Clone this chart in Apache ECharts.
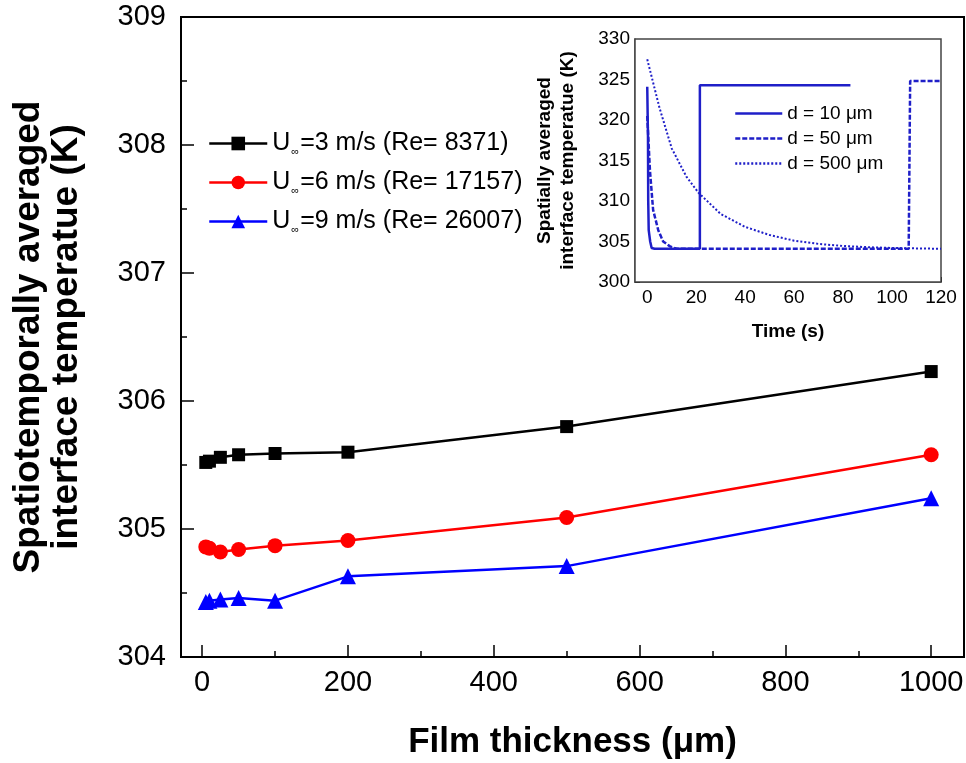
<!DOCTYPE html>
<html>
<head>
<meta charset="utf-8">
<title>Interface temperature vs film thickness</title>
<script src="https://cdn.jsdelivr.net/npm/echarts@6/dist/echarts.min.js"></script>
<style>
    html, body { margin: 0; padding: 0; background: #fff; }
    #chart { width: 966px; height: 763px; }
</style>
</head>
<body>
<div id="chart"></div>
<script>
// main plot data
const thickness = [5, 10, 25, 50, 100, 200, 500, 1000]
const tempU3 = [305.52, 305.53, 305.56, 305.58, 305.59, 305.60, 305.80, 306.23]
const tempU6 = [304.86, 304.85, 304.82, 304.84, 304.87, 304.91, 305.09, 305.58]
const tempU9 = [304.43, 304.44, 304.45, 304.46, 304.44, 304.63, 304.71, 305.24]
const mainNames = ['U∞=3 m/s (Re= 8371)', 'U∞=6 m/s (Re= 17157)', 'U∞=9 m/s (Re= 26007)']
const xMajorTicks = [0, 200, 400, 600, 800, 1000]
const xMinorTicks = [100, 300, 500, 700, 900]

// inset data (time history)
const timeD10 = [0, 0.3, 0.4, 0.6, 1.2, 1.8, 3, 21.5, 21.5, 83]
const tempD10 = [324.1, 318, 310, 306.4, 305.0, 304.2, 304.1, 304.1, 324.3, 324.3]
const timeD50 = [0, 1.1, 2.4, 4.5, 6.5, 9.3, 12, 106.8, 107.4, 120]
const tempD50 = [320.5, 313.8, 308.9, 306.4, 305.0, 304.4, 304.1, 304.1, 324.8, 324.8]
const timeD500 = [0, 5, 10, 16, 21, 30, 40, 50, 60, 70, 80, 90, 100, 110, 120]
const tempD500 = [327.5, 321.5, 316.5, 313.0, 311.0, 308.4, 306.8, 305.8, 305.1, 304.7, 304.45, 304.3, 304.2, 304.15, 304.1]
const insetNames = ['d = 10 μm', 'd = 50 μm', 'd = 500 μm']
const tMajorTicks = [0, 20, 40, 60, 80, 100, 120]
const tMinorTicks = [10, 30, 50, 70, 90, 110]

const FONT = 'Arial, "Liberation Sans", sans-serif'
const INSET_BLUE = '#1f1fc8'

const zip = (xs, ys) => xs.map((x, i) => [x, ys[i]])
const plain = (v) => String(v)

const chart = echarts.init(document.getElementById('chart'))

// extra axis that only draws short (minor) ticks at given values
const minorAxis = (gridIndex, values, len, min, max) => ({
    type: 'value', gridIndex, position: 'bottom', min, max,
    axisLine: { show: false, onZero: false },
    axisLabel: { show: false },
    splitLine: { show: false },
    axisTick: { show: true, inside: true, length: len, customValues: values, lineStyle: { color: '#000', width: gridIndex ? 1 : 1.5 } }
})

const option = {
    backgroundColor: '#fff',
    animation: false,
    textStyle: { fontFamily: FONT },
    grid: [
        { left: 181, right: 2, top: 17, bottom: 106, outerBoundsMode: 'none', containLabel: false,
          show: true, borderColor: '#000', borderWidth: 2 },
        { left: 635, right: 25, top: 39, bottom: 481, outerBoundsMode: 'none', containLabel: false,
          show: true, backgroundColor: '#fff', borderColor: '#444', borderWidth: 1.5, z: 5 }
    ],
    legend: [
        {
            data: mainNames,
            orient: 'vertical',
            left: 203, top: 126,
            itemWidth: 58, itemHeight: 17, itemGap: 13,
            lineStyle: { width: 2.5 },
            textStyle: {
                fontSize: 25, color: '#000', fontFamily: FONT,
                rich: { s: { fontSize: 11, color: '#000', verticalAlign: 'bottom', padding: [16, 1, 0, 1] } }
            },
            formatter: (name) => name.replace('∞', '{s|∞}')
        },
        {
            data: insetNames,
            orient: 'vertical',
            left: 729, top: 99,
            itemWidth: 47, itemHeight: 10, itemGap: 6,
            itemStyle: { opacity: 0 },
            lineStyle: { width: 2.5 },
            textStyle: { fontSize: 19, color: '#000', fontFamily: FONT },
            z: 10
        }
    ],
    xAxis: [
        {
            type: 'value', gridIndex: 0, position: 'bottom', min: -29, max: 1045,
            name: 'Film thickness (μm)', nameLocation: 'middle', nameGap: 68,
            nameTextStyle: { fontSize: 35, fontWeight: 'bold', color: '#000', fontFamily: FONT },
            axisLine: { onZero: false, lineStyle: { color: '#000', width: 2 } },
            axisTick: { inside: true, length: 12, customValues: xMajorTicks, lineStyle: { color: '#000', width: 1.5 } },
            axisLabel: { customValues: xMajorTicks, formatter: plain, fontSize: 29, color: '#000', margin: 11 },
            splitLine: { show: false }
        },
        minorAxis(0, xMinorTicks, 6, -29, 1045),
        {
            type: 'value', gridIndex: 1, position: 'bottom', min: -5, max: 120,
            name: 'Time (s)', nameLocation: 'middle', nameGap: 40,
            nameTextStyle: { fontSize: 19, fontWeight: 'bold', color: '#000', fontFamily: FONT },
            axisLine: { onZero: false, lineStyle: { color: '#444', width: 1.5 } },
            axisTick: { inside: true, length: 5, customValues: tMajorTicks, lineStyle: { color: '#000' } },
            axisLabel: { customValues: tMajorTicks, formatter: plain, fontSize: 19, color: '#000', margin: 6 },
            splitLine: { show: false }
        },
        minorAxis(1, tMinorTicks, 3, -5, 120)
    ],
    yAxis: [
        {
            type: 'value', gridIndex: 0, min: 304, max: 309, interval: 1,
            name: 'Spatiotemporally averaged\ninterface temperatue (K)', nameLocation: 'middle', nameGap: 95, nameRotate: 90,
            nameTextStyle: { fontSize: 37, fontWeight: 'bold', color: '#000', lineHeight: 38, fontFamily: FONT },
            axisLine: { onZero: false, lineStyle: { color: '#000', width: 2 } },
            axisTick: { inside: true, length: 13, lineStyle: { color: '#000', width: 1.5 } },
            minorTick: { show: true, splitNumber: 2, length: 6, lineStyle: { color: '#000', width: 1.5 } },
            axisLabel: { fontSize: 29, color: '#000', margin: 15 },
            splitLine: { show: false }
        },
        {
            type: 'value', gridIndex: 1, min: 300, max: 330, interval: 5,
            name: 'Spatially averaged\ninterface temperatue (K)', nameLocation: 'middle', nameGap: 56, nameRotate: 90,
            nameTextStyle: { fontSize: 19, fontWeight: 'bold', color: '#000', lineHeight: 23, fontFamily: FONT },
            axisLine: { onZero: false, lineStyle: { color: '#444', width: 1.5 } },
            axisTick: { inside: true, length: 5, lineStyle: { color: '#000' } },
            minorTick: { show: true, splitNumber: 2, length: 3, lineStyle: { color: '#000' } },
            axisLabel: { fontSize: 19, color: '#000', margin: 5 },
            splitLine: { show: false }
        }
    ],
    series: [
        {
            name: mainNames[0], type: 'line', xAxisIndex: 0, yAxisIndex: 0,
            data: zip(thickness, tempU3), symbol: 'rect', symbolSize: 13,
            lineStyle: { color: '#000', width: 2.5 }, itemStyle: { color: '#000' }
        },
        {
            name: mainNames[1], type: 'line', xAxisIndex: 0, yAxisIndex: 0,
            data: zip(thickness, tempU6), symbol: 'circle', symbolSize: 15,
            lineStyle: { color: '#ff0000', width: 2.5 }, itemStyle: { color: '#ff0000' }
        },
        {
            name: mainNames[2], type: 'line', xAxisIndex: 0, yAxisIndex: 0,
            data: zip(thickness, tempU9), symbol: 'triangle', symbolSize: 16,
            lineStyle: { color: '#0000ff', width: 2.5 }, itemStyle: { color: '#0000ff' }
        },
        {
            name: insetNames[0], type: 'line', xAxisIndex: 2, yAxisIndex: 1, z: 10,
            data: zip(timeD10, tempD10), showSymbol: false, symbol: 'none',
            lineStyle: { color: INSET_BLUE, width: 2.5, type: 'solid' }, itemStyle: { color: INSET_BLUE }
        },
        {
            name: insetNames[1], type: 'line', xAxisIndex: 2, yAxisIndex: 1, z: 10,
            data: zip(timeD50, tempD50), showSymbol: false, symbol: 'none',
            lineStyle: { color: INSET_BLUE, width: 2.5, type: [5, 2] }, itemStyle: { color: INSET_BLUE }
        },
        {
            name: insetNames[2], type: 'line', xAxisIndex: 2, yAxisIndex: 1, z: 10,
            data: zip(timeD500, tempD500), showSymbol: false, symbol: 'none',
            lineStyle: { color: INSET_BLUE, width: 2, type: [2, 2] }, itemStyle: { color: INSET_BLUE }
        }
    ]
}

chart.setOption(option)
window.addEventListener('resize', () => chart.resize())
</script>
</body>
</html>
